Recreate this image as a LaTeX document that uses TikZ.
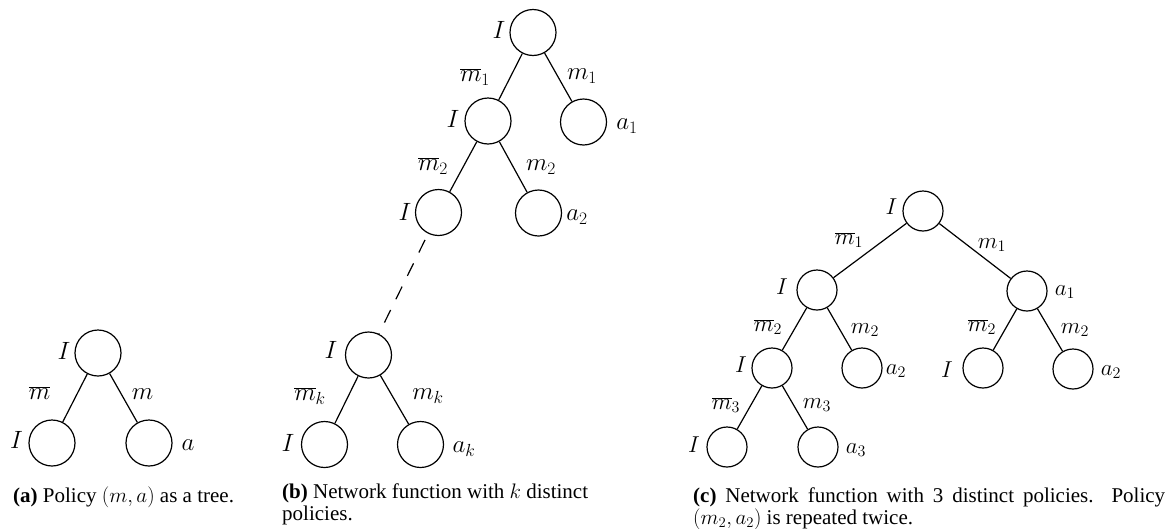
\RequirePackage{fix-cm}
\documentclass[tikz,border=0pt]{standalone}
\usepackage{fontspec}
\setmainfont{Liberation Serif}
\tikzset{
  nd/.style={circle, draw, line width=1.2pt, minimum size=46pt, inner sep=0pt},
  ndc/.style={nd, minimum size=40pt},
  lb/.style={inner sep=0pt, font=\fontsize{25}{30}\selectfont},
  lbc/.style={inner sep=0pt, font=\fontsize{23}{28}\selectfont},
  edge/.style={line width=1.2pt},
  dashedge/.style={line width=1.2pt, dash pattern=on 14pt off 12pt, dash phase=19pt},
  capt/.style={inner sep=0pt, anchor=base west, font=\fontsize{21}{22}\selectfont}
}
\begin{document}
\begin{tikzpicture}[x=1pt,y=-1pt]
\useasboundingbox (0,0) rectangle (1171,528);
% ---------- tree (a)
\node[nd] (a0) at (98,353) {};
\node[nd] (a1) at (52,443) {};
\node[nd] (a2) at (149,443) {};
\draw[edge] (a0) -- (a1);
\draw[edge] (a0) -- (a2);
\node[lb] (la0) at (64,351) {$I$};
\node[lb] (la1) at (16.5,440) {$I$};
\node[lb] (la2) at (188,445) {$a$};
\node[lb] (lma) at (39.5,393) {$\overline{m}$};
\node[lb] (lmb) at (142.5,394.5) {$m$};
\node[capt] (capa) at (13,502) {\textbf{(a)} Policy $(m,a)$ as a tree.};
% ---------- tree (b)
\node[nd] (b0) at (533,32.5) {};
\node[nd] (b1) at (488,121) {};
\node[nd] (b1r) at (583.5,122) {};
\node[nd] (b2) at (438.5,212.5) {};
\node[nd] (b2r) at (538.5,213) {};
\node[nd] (bk) at (368.5,355) {};
\node[nd] (bkl) at (324.5,444.5) {};
\node[nd] (bkr) at (420.5,444.5) {};
\draw[edge] (b0) -- (b1);
\draw[edge] (b0) -- (b1r);
\draw[edge] (b1) -- (b2);
\draw[edge] (b1) -- (b2r);
\draw[dashedge] (b2) -- (bk);
\draw[edge] (bk) -- (bkl);
\draw[edge] (bk) -- (bkr);
\node[lb] (lb0) at (499,30) {$I$};
\node[lb] (lb1) at (453,119) {$I$};
\node[lb] (lb1r) at (627,126) {$a_1$};
\node[lb] (lb2) at (405,212) {$I$};
\node[lb] (lb2r) at (577,217) {$a_2$};
\node[lb] (lbm1) at (475,77) {$\overline{m}_1$};
\node[lb] (lbn1) at (582,76) {$m_1$};
\node[lb] (lbm2) at (433,166) {$\overline{m}_2$};
\node[lb] (lbn2) at (541,167) {$m_2$};
\node[lb] (lbk) at (331,350) {$I$};
\node[lb] (lbkl) at (288,443) {$I$};
\node[lb] (lbkr) at (464,449) {$a_k$};
\node[lb] (lbmk) at (310,396) {$\overline{m}_k$};
\node[lb] (lbnk) at (428,396) {$m_k$};
\node[capt] (capb) at (282,498) {\parbox[t]{330pt}{\raggedright\textbf{(b)} Network function with $k$ distinct\\policies.}};
% ---------- tree (c)
\node[ndc] (c0) at (923,211) {};
\node[ndc] (c1) at (817,290) {};
\node[ndc] (c2) at (1027,291) {};
\node[ndc] (c11) at (772,368) {};
\node[ndc] (c12) at (862,368) {};
\node[ndc] (c21) at (983,368) {};
\node[ndc] (c22) at (1073,369) {};
\node[ndc] (c111) at (727,447) {};
\node[ndc] (c112) at (818,447) {};
\draw[edge] (c0) -- (c1);
\draw[edge] (c0) -- (c2);
\draw[edge] (c1) -- (c11);
\draw[edge] (c1) -- (c12);
\draw[edge] (c2) -- (c21);
\draw[edge] (c2) -- (c22);
\draw[edge] (c11) -- (c111);
\draw[edge] (c11) -- (c112);
\node[lbc] (lc0) at (891.5,207) {$I$};
\node[lbc] (lc1) at (782,287) {$I$};
\node[lbc] (lc2) at (1065,292) {$a_1$};
\node[lbc] (lcm1) at (849,240) {$\overline{m}_1$};
\node[lbc] (lcn1) at (992,245) {$m_1$};
\node[lbc] (lc11) at (741,365) {$I$};
\node[lbc] (lc12) at (896,371) {$a_2$};
\node[lbc] (lc21) at (947,370) {$I$};
\node[lbc] (lc22) at (1111,372) {$a_2$};
\node[lbc] (lcm2) at (768,327) {$\overline{m}_2$};
\node[lbc] (lcn2) at (865,330) {$m_2$};
\node[lbc] (lcm2b) at (982,327) {$\overline{m}_2$};
\node[lbc] (lcn2b) at (1075,330) {$m_2$};
\node[lbc] (lc111) at (694,445) {$I$};
\node[lbc] (lc112) at (856,450) {$a_3$};
\node[lbc] (lcm3) at (726,405) {$\overline{m}_3$};
\node[lbc] (lcn3) at (817,405) {$m_3$};
\node[capt] (capc) at (693,502) {\parbox[t]{472pt}{\textbf{(c)} Network function with 3 distinct policies. Policy\linebreak $(m_2,a_2)$ is repeated twice.}};
\end{tikzpicture}
\end{document}
